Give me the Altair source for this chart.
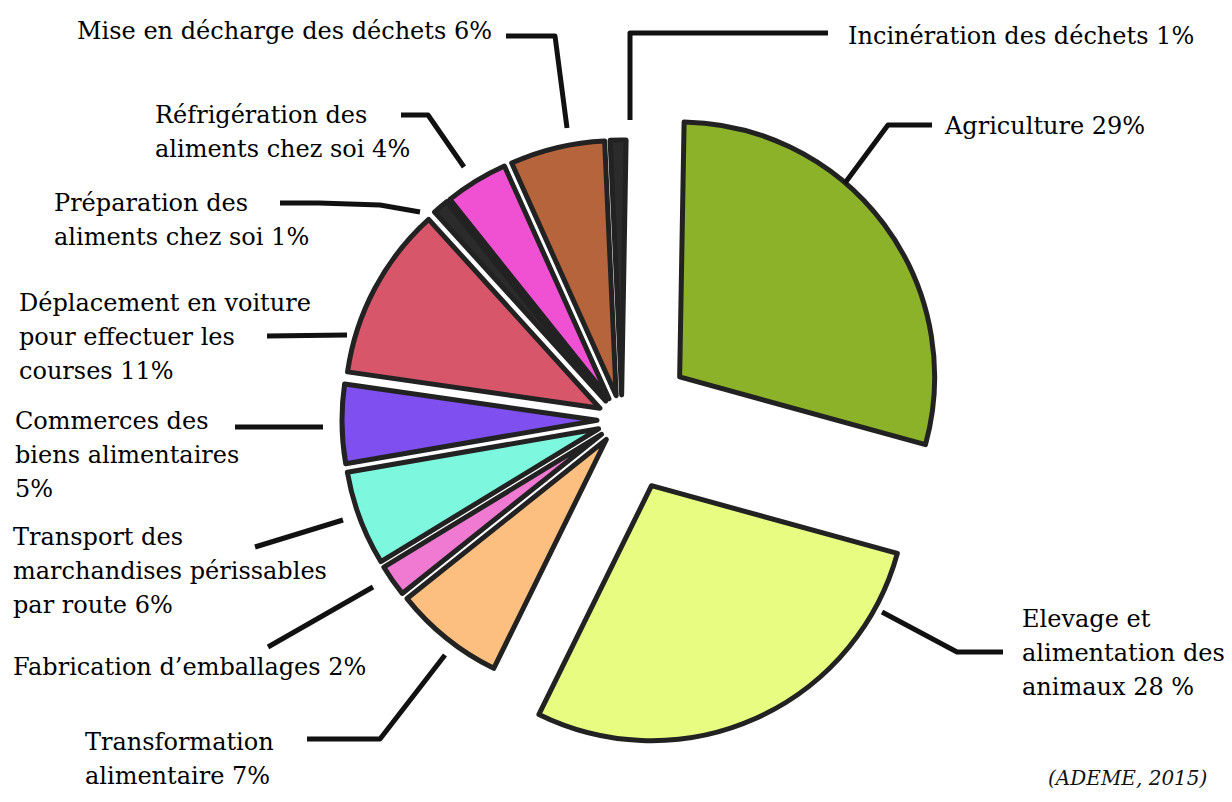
import math
import altair as alt
import pandas as pd

# ---------------- data ----------------
CATEGORIES = [
    "Agriculture",
    "Elevage et alimentation des animaux",
    "Transformation alimentaire",
    "Fabrication d'emballages",
    "Transport des marchandises périssables par route",
    "Commerces des biens alimentaires",
    "Déplacement en voiture pour effectuer les courses",
    "Préparation des aliments chez soi",
    "Réfrigération des aliments chez soi",
    "Mise en décharge des déchets",
    "Incinération des déchets",
]
VALUES = [29, 28, 7, 2, 6, 5, 11, 1, 4, 6, 1]
LABELS = [
    "Agriculture 29%",
    "Elevage et\nalimentation des\nanimaux 28 %",
    "Transformation\nalimentaire 7%",
    "Fabrication d’emballages 2%",
    "Transport des\nmarchandises périssables\npar route 6%",
    "Commerces des\nbiens alimentaires\n5%",
    "Déplacement en voiture\npour effectuer les\ncourses 11%",
    "Préparation des\naliments chez soi 1%",
    "Réfrigération des\naliments chez soi 4%",
    "Mise en décharge des déchets 6%",
    "Incinération des déchets 1%",
]
SOURCE = "(ADEME, 2015)"

# ---------------- styles ----------------
COLORS = ["#8cb22a", "#e8fc82", "#fdbf80", "#f07ad2", "#7ef7df",
          "#7f4fef", "#d8566a", "#2b2b2b", "#f050d2", "#b5643c", "#2b2b2b"]
FONT = "DejaVu Serif"
W, H = 1216, 786
CX, CY = 622, 420          # pie centre (page pixels)
R = 255                    # slice radius
EX_BIG, EX_SMALL = 72, 25  # explode distances
ROT = math.radians(1.0)

# annotation layout (page pixels): label left x, first baseline y, leader polyline
LABEL_POS = [
    (945, 134), (1022, 627), (85, 750), (13, 675), (13, 545), (15, 429),
    (19, 311), (54, 211), (155, 123), (77, 39), (848, 44),
]
LEADERS = [
    [(845, 183), (888, 125), (932, 125)],
    [(882, 612), (957, 652), (1003, 652)],
    [(445, 655), (380, 739), (307, 739)],
    [(373, 587), (268, 647)],
    [(343, 520), (255, 547)],
    [(323, 427), (235, 427)],
    [(347, 335), (267, 336)],
    [(420, 212), (380, 205), (319, 203), (280, 203)],
    [(464, 167), (428, 115), (401, 115)],
    [(567, 128), (555, 36), (506, 36)],
    [(630, 120), (630, 33), (828, 33)],
]

XS = alt.Scale(domain=[8, 8 + W], range=[0, W], nice=False, zero=False)
YS = alt.Scale(domain=[8, 8 + H], range=[0, H], nice=False, zero=False)

pie_df = pd.DataFrame({"cat": CATEGORIES, "v": VALUES, "ord": list(range(len(VALUES)))})

pie = alt.Chart(pie_df).transform_window(
    cum="sum(v)", sort=[alt.SortField("ord", order="ascending")], frame=[None, 0]
).transform_calculate(
    t0="datum.cum - datum.v",
    mid="datum.cum - datum.v / 2",
    ang=f"{ROT} + 2 * PI * datum.mid / 100",
    ex=f"datum.v >= 20 ? {EX_BIG} : {EX_SMALL}",
    px=f"{CX} + datum.ex * sin(datum.ang)",
    py=f"{CY} - datum.ex * cos(datum.ang)",
).mark_arc(
    outerRadius=R, innerRadius=0, stroke="#222222", strokeWidth=5, strokeJoin="round"
).encode(
    theta=alt.Theta("t0:Q", scale=alt.Scale(domain=[0, 100], range=[ROT, ROT + 2 * math.pi])),
    theta2="cum:Q",
    x=alt.X("px:Q", scale=XS, axis=None),
    y=alt.Y("py:Q", scale=YS, axis=None),
    color=alt.Color("cat:N", scale=alt.Scale(domain=CATEGORIES, range=COLORS), legend=None),
)

lead_rows = []
for i, pts in enumerate(LEADERS):
    for j, (x, y) in enumerate(pts):
        lead_rows.append({"id": i, "seq": j, "lx": x, "ly": y})
lead_df = pd.DataFrame(lead_rows)

leaders = alt.Chart(lead_df).mark_line(
    color="#111111", strokeWidth=5, strokeJoin="round", strokeCap="butt"
).encode(
    x=alt.X("lx:Q", scale=XS, axis=None),
    y=alt.Y("ly:Q", scale=YS, axis=None),
    detail="id:N",
    order="seq:Q",
)

lab_df = pd.DataFrame({
    "label": LABELS,
    "tx": [p[0] for p in LABEL_POS],
    "ty": [p[1] - 19 for p in LABEL_POS],
})

labels = alt.Chart(lab_df).mark_text(
    align="left", baseline="top", font=FONT, fontSize=24, lineHeight=34,
    lineBreak="\n", color="#000000"
).encode(
    x=alt.X("tx:Q", scale=XS, axis=None),
    y=alt.Y("ty:Q", scale=YS, axis=None),
    text="label:N",
)

src_df = pd.DataFrame({"label": [SOURCE], "tx": [1048], "ty": [769]})
source = alt.Chart(src_df).mark_text(
    align="left", baseline="top", font=FONT, fontSize=20, fontStyle="italic", color="#111111"
).encode(
    x=alt.X("tx:Q", scale=XS, axis=None),
    y=alt.Y("ty:Q", scale=YS, axis=None),
    text="label:N",
)

chart = alt.layer(pie, leaders, labels, source).properties(
    width=W, height=H, padding=0, autosize="none", background="white"
).configure_view(stroke=None)

chart.save("out.html", embed_options={"renderer": "svg", "actions": False})
